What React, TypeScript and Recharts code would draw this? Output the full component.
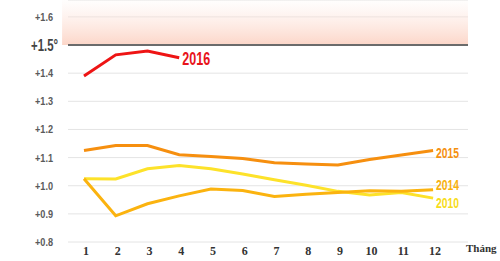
import React from "react";
import {
  LineChart,
  Line,
  XAxis,
  YAxis,
  CartesianGrid,
  ReferenceArea,
  ReferenceLine,
  LabelList,
} from "recharts";

// months on the x axis
const months = [1, 2, 3, 4, 5, 6, 7, 8, 9, 10, 11, 12];

// temperature anomaly (°C above pre-industrial)
const y2016 = [1.39, 1.465, 1.479, 1.455];
const y2015 = [1.125, 1.143, 1.143, 1.11, 1.104, 1.097, 1.082, 1.077, 1.074, 1.093, 1.109, 1.125];
const y2014 = [1.025, 0.893, 0.936, 0.964, 0.988, 0.983, 0.962, 0.97, 0.976, 0.982, 0.98, 0.986];
const y2010 = [1.025, 1.024, 1.06, 1.072, 1.06, 1.042, 1.021, 1.002, 0.98, 0.967, 0.976, 0.956];

const yTicks = [0.8, 0.9, 1.0, 1.1, 1.2, 1.3, 1.4, 1.5, 1.6];

const data = months.map((m, i) => ({
  month: m,
  y2016: i < y2016.length ? y2016[i] : null,
  y2015: y2015[i],
  y2014: y2014[i],
  y2010: y2010[i],
}));

const labelFont = "'Liberation Sans', Arial, sans-serif";

const YTick = ({ x, y, payload }: any) => {
  const v = payload.value;
  if (Math.abs(v - 1.5) < 0.001) {
    return (
      <text x={x + 2} y={y} dy={6} textAnchor="end" fill="#444" fontFamily={labelFont} fontWeight="bold" fontSize={17}
        textLength={27} lengthAdjust="spacingAndGlyphs">
        +1.5°
      </text>
    );
  }
  return (
    <text x={x - 3} y={y} dy={4} textAnchor="end" fill="#5a5a5a" fontFamily={labelFont} fontWeight="bold" fontSize={11.5}
      textLength={18} lengthAdjust="spacingAndGlyphs">
      {"+" + v.toFixed(1)}
    </text>
  );
};

const XTick = ({ x, y, payload }: any) => (
  <text x={x + 2} y={y} dy={7} textAnchor="middle" fill="#333" fontFamily="'Liberation Serif', serif" fontWeight="bold" fontSize={12}>
    {payload.value}
  </text>
);

// series name drawn next to the last point
const endLabel = (name: string, color: string, last: number, dy: number, size: number, len: number) => (props: any) => {
  const { x, y, index } = props;
  if (index !== last) return null;
  return (
    <text x={x + 3} y={y + dy} fill={color} fontFamily={labelFont} fontWeight="bold" fontSize={size}
      textLength={len} lengthAdjust="spacingAndGlyphs">
      {name}
    </text>
  );
};

export default function App() {
  return (
    <div style={{ position: "absolute", left: 0, top: 0, width: 500, height: 261, background: "#fff" }}>
      <LineChart width={500} height={261} data={data} margin={{ top: 0, right: 32, bottom: 0, left: 0 }}>
        <defs>
          <linearGradient id="hot" x1="0" y1="0" x2="0" y2="1">
            <stop offset="0%" stopColor="#fde6de" stopOpacity={0.05} />
            <stop offset="100%" stopColor="#fcd6c8" stopOpacity={1} />
          </linearGradient>
        </defs>
        <ReferenceArea x1={0.31} x2={13.1} y1={1.5} y2={1.66} fill="url(#hot)" fillOpacity={1} stroke="none" ifOverflow="visible" />
        <CartesianGrid vertical={false} stroke="#e4e4e4" strokeWidth={1} />
        <XAxis
          dataKey="month"
          type="number"
          domain={[0.496, 13.1]}
          ticks={months}
          axisLine={false}
          tickLine={false}
          tick={<XTick />}
          interval={0}
          height={19}
          tickMargin={0}
          allowDataOverflow
        />
        <YAxis
          type="number"
          domain={[0.8, 1.66]}
          ticks={yTicks}
          axisLine={false}
          tickLine={false}
          tick={<YTick />}
          width={68}
          tickMargin={6}
          allowDataOverflow
        />
        <ReferenceLine y={1.5} x1={0.31} stroke="#6b6b6b" strokeWidth={2} />
        <Line dataKey="y2010" stroke="#fde22a" strokeWidth={3} dot={false} isAnimationActive={false}>
          <LabelList dataKey="y2010" content={endLabel("2010", "#f7dc1a", 11, 10, 15, 23)} />
        </Line>
        <Line dataKey="y2014" stroke="#fbb30f" strokeWidth={3} dot={false} isAnimationActive={false}>
          <LabelList dataKey="y2014" content={endLabel("2014", "#f8b10e", 11, 0, 15, 23)} />
        </Line>
        <Line dataKey="y2015" stroke="#f68f0f" strokeWidth={3} dot={false} isAnimationActive={false}>
          <LabelList dataKey="y2015" content={endLabel("2015", "#f5900f", 11, 7, 15, 23)} />
        </Line>
        <Line dataKey="y2016" stroke="#ee1414" strokeWidth={3} dot={false} connectNulls={false} isAnimationActive={false}>
          <LabelList dataKey="y2016" content={endLabel("2016", "#e8141b", 3, 7, 19, 28)} />
        </Line>
      </LineChart>
      <div
        style={{
          position: "absolute",
          left: 466,
          top: 242,
          whiteSpace: "nowrap",
          fontFamily: "'Liberation Serif', serif",
          fontWeight: "bold",
          fontSize: 11,
          color: "#333",
        }}
      >
        Tháng
      </div>
    </div>
  );
}
